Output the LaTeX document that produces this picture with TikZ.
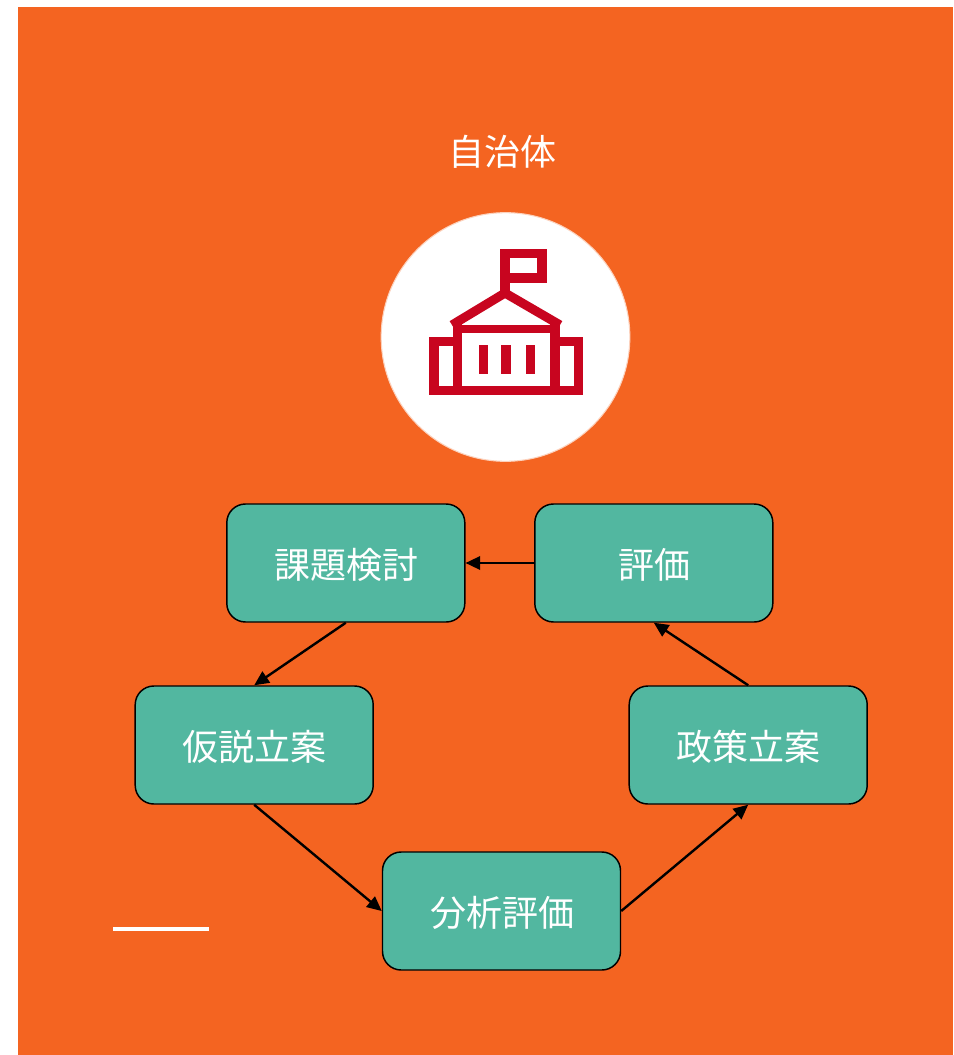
\documentclass[tikz,border=0pt]{standalone}
\usepackage{fontspec}
\setmainfont{Noto Sans CJK JP}
\usetikzlibrary{arrows.meta}
\definecolor{bgorange}{HTML}{F46421}
\definecolor{boxgreen}{HTML}{52B7A0}
\definecolor{iconred}{HTML}{C8051F}
\tikzset{
  stepbox/.style={draw=black,fill=boxgreen,rounded corners=14pt,line width=1.1pt,
    minimum width=178.5pt,minimum height=88.5pt,inner sep=0pt,text=white,text depth=0pt,font=\fontsize{27}{32}\selectfont},
  flow/.style={draw=black,line width=1.8pt,-{Triangle[length=11pt,width=10pt]},shorten >=0pt},
  iconline/.style={draw=iconred,line width=6.8pt,line join=miter,line cap=butt},
  iconthin/.style={draw=iconred,line width=6pt,line cap=butt},
  iconbar/.style={draw=iconred,line width=7pt,line cap=butt},
}
\begin{document}
\begin{tikzpicture}[x=0.75pt,y=-0.75pt]
\useasboundingbox (0,0) rectangle (953,1055);
\fill[white] (0,0) rectangle (953,1055);
\fill[bgorange] (18,7) rectangle (953,1055);
\node[text=white,font=\fontsize{27}{32}\selectfont,inner sep=0pt] (title) at (502.5,151.5) {自治体};
\node[circle,fill=white,draw=white!70!bgorange,line width=0.8pt,minimum size=186.5pt,inner sep=0pt] (emblem) at (505.5,337) {};
% icon
\draw[iconline] (505,253.5) rectangle (542,278);
\draw[iconline] (505,278) -- (505,293);
\draw[iconline] (452,325) -- (505,293) -- (560,325);
\draw[iconthin] (457,328.5) -- (555,328.5);
\draw[iconline] (457.3,322) -- (457.3,394.7);
\draw[iconline] (555,322) -- (555,394.7);
\draw[iconline] (457.3,341.3) -- (434,341.3) -- (434,390.7) -- (578.3,390.7) -- (578.3,341.3) -- (555,341.3);
\draw[iconbar] (483.7,345) -- (483.7,374);
\draw[iconbar] (506,345) -- (506,374);
\draw[iconbar] (530.3,345) -- (530.3,374);
% boxes
\node[stepbox] (kadai) at (345.8,563) {\hspace{0.8pt}\raisebox{-0.4pt}{課題検討}};
\node[stepbox] (hyoka) at (653.8,563) {\hspace{0.8pt}\raisebox{-0.4pt}{評価}};
\node[stepbox] (kasetsu) at (254.2,745) {\hspace{0.8pt}\raisebox{-0.4pt}{仮説立案}};
\node[stepbox] (seisaku) at (748.2,745) {\hspace{0.8pt}\raisebox{-0.4pt}{政策立案}};
\node[stepbox] (bunseki) at (501.5,911) {\hspace{0.8pt}\raisebox{-0.4pt}{分析評価}};
% connectors
\draw[flow] (hyoka.west) -- (kadai.east);
\draw[flow] (kadai.south) -- (kasetsu.north);
\draw[flow] (kasetsu.south) -- (bunseki.west);
\draw[flow] (bunseki.east) -- (seisaku.south);
\draw[flow] (seisaku.north) -- (hyoka.south);
% white rule
\coordinate (ruleL) at (113,928.5);
\coordinate (ruleR) at (209,928.5);
\draw[white,line width=3pt] (ruleL) -- (ruleR);
\end{tikzpicture}
\end{document}
